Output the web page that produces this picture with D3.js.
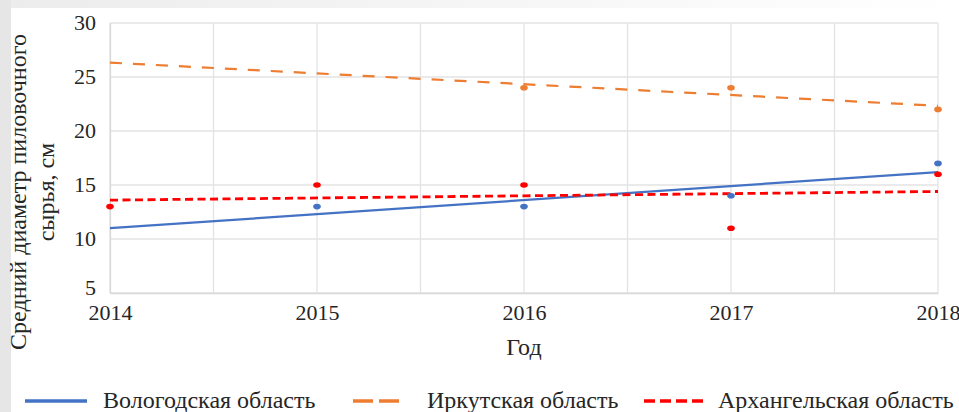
<!DOCTYPE html>
<html>
<head>
<meta charset="utf-8">
<script src="https://cdn.jsdelivr.net/npm/d3@7"></script>
<style>
  body { margin: 0; background: #fff; }
</style>
</head>
<body>
<svg id="chart" width="959" height="412"></svg>
<script>
// data
let years = [2014, 2015, 2016, 2017, 2018]
let vologda = [null, 13, 13, 14, 17]
let irkutsk = [null, null, 24, 24, 22]
let arkhangelsk = [13, 15, 15, 11, 16]
let yTicks = [5, 10, 15, 20, 25, 30]
let seriesNames = ['Вологодская область', 'Иркутская область', 'Архангельская область']

let font = 'Liberation Serif, Times New Roman, serif'
let svg = d3.select('#chart')
let width = 959, height = 412

// slide shadow on the left / top
let defs = svg.append('defs')
let grad = defs.append('linearGradient').attr('id', 'topfade')
grad.append('stop').attr('offset', '0%').attr('stop-color', '#ececec')
grad.append('stop').attr('offset', '100%').attr('stop-color', '#ffffff')
svg.append('rect').attr('x', 0).attr('y', 0).attr('width', width).attr('height', 8).attr('fill', 'url(#topfade)')
svg.append('rect').attr('x', 0).attr('y', 0).attr('width', 11).attr('height', height).attr('fill', '#e6e6e6')

let x = d3.scaleLinear().domain([2014, 2018]).range([110, 938])
let y = d3.scaleLinear().domain([5, 30]).range([293, 23])

let color = d3.scaleOrdinal()
  .domain(seriesNames)
  .range(['#4472c4', '#ed7d31', '#ff0000'])

let dashes = ['none', '12,11', '8,4.5']
let widths = [2.2, 2.2, 2.8]

// grid
let grid = svg.append('g')
grid.selectAll('.hg')
  .data(yTicks)
  .enter().append('line')
  .attr('x1', x(2014)).attr('x2', x(2018))
  .attr('y1', d => y(d)).attr('y2', d => y(d))
  .attr('stroke', '#e3e3e3').attr('stroke-width', 1.3)
grid.selectAll('.vg')
  .data(d3.range(2014, 2018.01, 0.5))
  .enter().append('line')
  .attr('x1', d => x(d)).attr('x2', d => x(d))
  .attr('y1', y(30)).attr('y2', y(5))
  .attr('stroke', '#e3e3e3').attr('stroke-width', 1.3)

// axes
let xAxis = d3.axisBottom(x).tickValues(years).tickFormat(d3.format('d')).tickSize(0).tickPadding(11)
let yAxis = d3.axisLeft(y).tickValues(yTicks).tickSize(0).tickPadding(14)

let gx = svg.append('g').attr('transform', `translate(0,${y(5)})`).call(xAxis)
let gy = svg.append('g').attr('transform', `translate(${x(2014)},0)`).call(yAxis)
gx.select('.domain').attr('stroke', '#d9d9d9').attr('stroke-width', 1.3)
gy.select('.domain').attr('stroke', '#d9d9d9').attr('stroke-width', 1.3)
gx.attr('font-family', font).attr('font-size', 22)
gy.attr('font-family', font).attr('font-size', 22)
svg.selectAll('.tick text').attr('fill', '#262626')
gy.selectAll('.tick text').attr('dy', d => d == 5 ? '0.05em' : '0.3em')

// titles
svg.append('text')
  .attr('x', 524).attr('y', 355)
  .attr('text-anchor', 'middle')
  .attr('font-family', font)
  .attr('font-size', 24)
  .attr('fill', '#262626')
  .text('Год')

let yt = svg.append('text')
  .attr('transform', 'translate(0,192) rotate(-90)')
  .attr('text-anchor', 'middle')
  .attr('font-family', font)
  .attr('font-size', 24)
  .attr('fill', '#262626')
yt.append('tspan').attr('x', 0).attr('y', 26).text('Средний диаметр пиловочного')
yt.append('tspan').attr('x', 0).attr('y', 54).text('сырья, см')

// linear trend from the points
function trend(vals) {
  let pts = years.map((yr, i) => [yr, vals[i]]).filter(p => p[1] != null)
  let mx = d3.mean(pts, p => p[0]), my = d3.mean(pts, p => p[1])
  let b = d3.sum(pts, p => (p[0] - mx) * (p[1] - my)) / d3.sum(pts, p => (p[0] - mx) ** 2)
  return [2014, 2018].map(t => [t, my + b * (t - mx)])
}

let allSeries = [vologda, irkutsk, arkhangelsk]
let line = d3.line().x(d => x(d[0])).y(d => y(d[1]))

allSeries.forEach((vals, i) => {
  svg.append('path')
    .attr('d', line(trend(vals)))
    .attr('fill', 'none')
    .attr('stroke', color(seriesNames[i]))
    .attr('stroke-width', widths[i])
    .attr('stroke-dasharray', dashes[i])
})

allSeries.forEach((vals, i) => {
  svg.append('g').selectAll('ellipse')
    .data(years.map((yr, j) => [yr, vals[j]]).filter(p => p[1] != null))
    .enter().append('ellipse')
    .attr('cx', d => x(d[0]))
    .attr('cy', d => y(d[1]))
    .attr('rx', 3.8).attr('ry', 2.8)
    .attr('fill', color(seriesNames[i]))
})

// legend
let legendX = [25, 353, 644]
let legendLen = [62, 47, 62]
let legendText = [103, 427, 718]
let legendDash = ['none', '20,6', '11,5']
let lg = svg.append('g')
seriesNames.forEach((name, i) => {
  lg.append('line')
    .attr('x1', legendX[i]).attr('x2', legendX[i] + legendLen[i])
    .attr('y1', 401).attr('y2', 401)
    .attr('stroke', color(name))
    .attr('stroke-width', 3.5)
    .attr('stroke-dasharray', legendDash[i])
  lg.append('text')
    .attr('x', legendText[i])
    .attr('y', 408)
    .attr('font-family', font)
    .attr('font-size', 24)
    .attr('fill', '#262626')
    .text(name)
})
</script>
</body>
</html>
